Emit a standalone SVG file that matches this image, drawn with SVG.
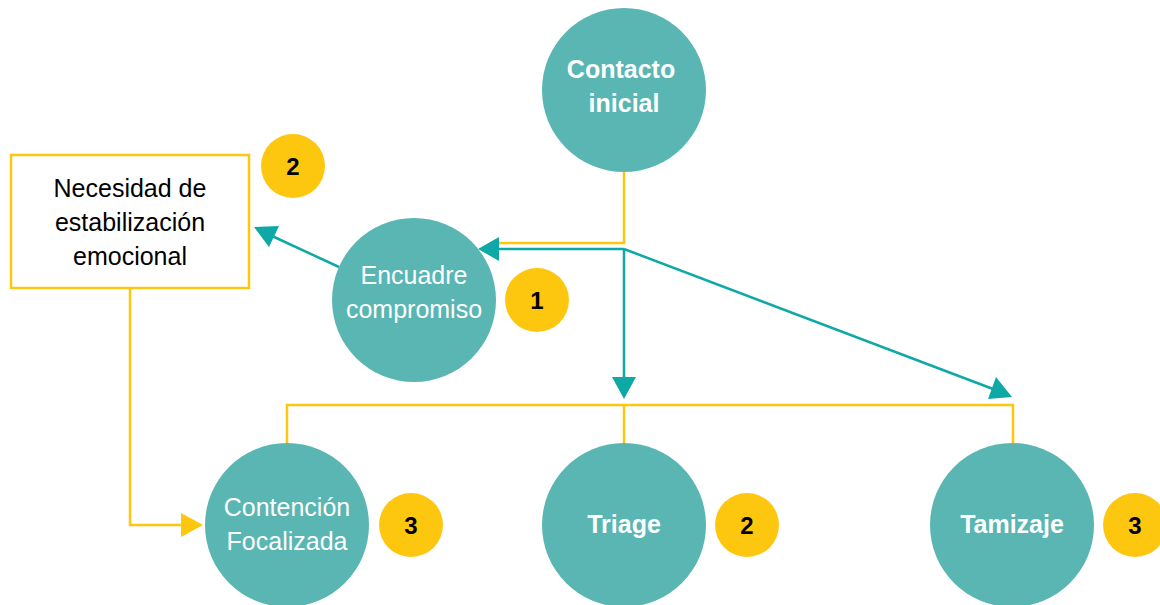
<svg xmlns="http://www.w3.org/2000/svg" width="1160" height="605" viewBox="0 0 1160 605">
<style>
.node{fill:#59B6B3}
.badge{fill:#FDC70F}
.tw{fill:#FFFFFF;font-family:"Liberation Sans",Arial,sans-serif;font-size:25px;text-anchor:middle}
.b{font-weight:bold}
.tb{fill:#000;font-family:"Liberation Sans",Arial,sans-serif;font-size:24px;font-weight:bold;text-anchor:middle}
.tk{fill:#000;font-family:"Liberation Sans",Arial,sans-serif;font-size:25px;text-anchor:middle}
.y{fill:none;stroke:#FDC70F;stroke-width:2.5}
.t{fill:none;stroke:#0EA9A7;stroke-width:2.5}
.ah{fill:#0EA9A7}
.ay{fill:#FDC70F}
</style>
<rect width="1160" height="605" fill="#FFFFFF"/>
<g id="connectors">
<polyline class="y" points="624,172 624,243 498,243"/>
<polyline class="y" points="130,288 130,525 182,525"/>
<polygon class="ay" points="203,525 181,513 181,537"/>
<polyline class="y" points="287,443 287,405 1013,405 1013,443"/>
<line class="y" x1="624" y1="405" x2="624" y2="443"/>
<polyline class="t" points="624,249 498,249"/>
<polygon class="ah" points="478,249 499,237 499,261"/>
<line class="t" x1="624" y1="249" x2="624" y2="379"/>
<polygon class="ah" points="624,399 612,377 636,377"/>
<line class="t" x1="624" y1="249" x2="993" y2="389"/>
<polygon class="ah" points="1012,397 988,399 996,377"/>
<line class="t" x1="339" y1="267" x2="272" y2="236"/>
<polygon class="ah" points="254,227 279,226 269,247"/>
</g>
<g id="contacto">
<circle class="node" cx="624" cy="90" r="82"/>
<text class="tw b" x="621" y="78">Contacto</text>
<text class="tw b" x="624" y="112">inicial</text>
</g>
<g id="necesidad">
<rect x="11" y="155" width="238" height="133" fill="#FFFFFF" stroke="#FDC70F" stroke-width="2.5"/>
<text class="tk" x="130" y="197">Necesidad de</text>
<text class="tk" x="130" y="231">estabilización</text>
<text class="tk" x="130" y="265">emocional</text>
</g>
<g id="badge-necesidad">
<circle class="badge" cx="293" cy="166" r="32"/>
<text class="tb" x="293" y="175">2</text>
</g>
<g id="encuadre">
<circle class="node" cx="414" cy="300" r="82"/>
<text class="tw" x="414" y="284">Encuadre</text>
<text class="tw" x="414" y="318">compromiso</text>
</g>
<g id="badge-encuadre">
<circle class="badge" cx="537" cy="300" r="32"/>
<text class="tb" x="537" y="309">1</text>
</g>
<g id="contencion">
<circle class="node" cx="287" cy="525" r="82"/>
<text class="tw" x="287" y="516">Contención</text>
<text class="tw" x="287" y="550">Focalizada</text>
</g>
<g id="badge-contencion">
<circle class="badge" cx="411" cy="525" r="32"/>
<text class="tb" x="411" y="534">3</text>
</g>
<g id="triage">
<circle class="node" cx="624" cy="525" r="82"/>
<text class="tw b" x="624" y="533">Triage</text>
</g>
<g id="badge-triage">
<circle class="badge" cx="747" cy="525" r="32"/>
<text class="tb" x="747" y="534">2</text>
</g>
<g id="tamizaje">
<circle class="node" cx="1012" cy="525" r="82"/>
<text class="tw b" x="1012" y="533">Tamizaje</text>
</g>
<g id="badge-tamizaje">
<circle class="badge" cx="1135" cy="525" r="32"/>
<text class="tb" x="1135" y="534">3</text>
</g>
</svg>
